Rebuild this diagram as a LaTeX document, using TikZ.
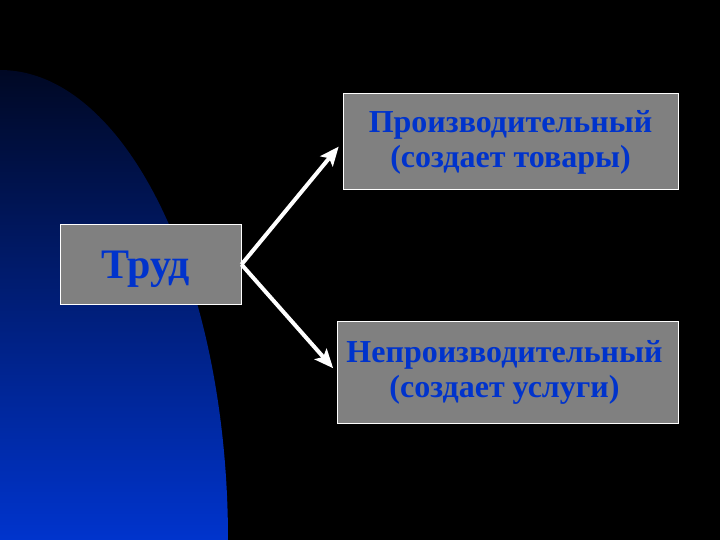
\documentclass[tikz,border=0pt]{standalone}
\usepackage{fontspec}
\setmainfont{Liberation Serif}
\usetikzlibrary{arrows.meta, positioning}
\definecolor{textblue}{RGB}{0,51,204}
\definecolor{boxgray}{RGB}{128,128,128}
\definecolor{navytop}{RGB}{0,8,36}
\definecolor{bluebot}{RGB}{0,52,205}

\begin{document}
\begin{tikzpicture}[x=1pt, y=-1pt,
  box/.style={draw=white, line width=1pt, fill=boxgray, text=textblue,
    font=\bfseries\fontsize{32}{35}\selectfont, align=center, inner sep=0pt},
  link/.style={draw=white, line width=4pt, -{Stealth[length=19pt, width=16pt, inset=4pt]}}]

  \fill[black] (0,0) rectangle (720,540);
  \useasboundingbox (0,0) rectangle (720,540);
  \begin{scope}
    \clip (0,540) ellipse [x radius=228, y radius=470];
    \shade[top color=navytop, bottom color=bluebot] (0,70) rectangle (230,540);
  \end{scope}

  \node[box, minimum width=181pt, minimum height=79pt, text depth=-6pt,
    font=\bfseries\fontsize{42}{44}\selectfont] (trud) at (150.5,264.5) {Труд\hspace*{10pt}};
  \node[box, minimum width=335pt, minimum height=96pt] (prod) at (510.5,142)
    {Производительный\\(создает товары)};
  \node[box, minimum width=341pt, minimum height=102pt] (neprod) at (507.5,372)
    {Непроизводительный\hspace*{6pt}\\(создает услуги)\hspace*{6pt}};

  \draw[link, shorten >=6pt] (trud.east) -- (prod.west);
  \draw[link, shorten >=5pt] (trud.east) -- (neprod.west);
\end{tikzpicture}
\end{document}
